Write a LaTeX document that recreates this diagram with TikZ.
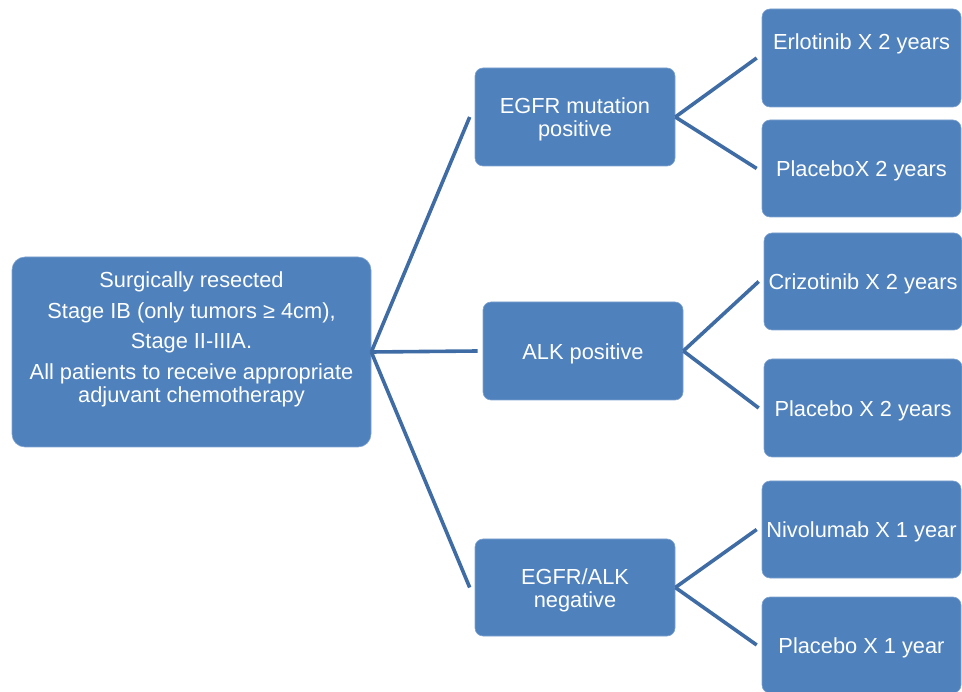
\documentclass[tikz,border=0pt]{standalone}
\usepackage{fontspec}
\setmainfont{Liberation Sans}
\definecolor{boxblue}{HTML}{4F81BD}
\definecolor{boxedge}{HTML}{7EA3D0}
\definecolor{linkblue}{HTML}{3F6CA4}
\newcommand{\lowertxt}[1]{\raisebox{-2.5pt}[\height][\depth]{#1}}
\tikzset{
  bluebox/.style={rectangle, rounded corners=8pt, fill=boxblue, draw=boxedge, line width=0.6pt,
    inner sep=0pt, text=white, font=\fontsize{21.8}{23}\selectfont, align=center, anchor=center},
  txt/.style={text=white, font=\fontsize{21.8}{23}\selectfont, align=center, inner sep=0pt},
  link/.style={draw=linkblue, line width=3.6pt}
}
\begin{document}
\begin{tikzpicture}[x=1pt,y=-1pt]
\useasboundingbox (0,0) rectangle (962,692);
% root
\node[bluebox, rounded corners=13pt, minimum width=359pt, minimum height=190pt] (root) at (191.5,352) {};
\node[txt] (roottxt) at (191.5,339) {Surgically resected\\[8pt]Stage IB (only tumors ≥ 4cm),\\[7pt]Stage II-IIIA.\\[8pt]All patients to receive appropriate\\adjuvant chemotherapy};
% middle
\node[bluebox, minimum width=200pt, minimum height=98pt] (egfr) at (575,117) {\lowertxt{EGFR mutation}\\\lowertxt{positive}};
\node[bluebox, minimum width=200pt, minimum height=98pt] (alk) at (583,351) {\lowertxt{ALK positive}};
\node[bluebox, minimum width=200pt, minimum height=97pt] (neg) at (575,587.5) {\lowertxt{EGFR/ALK}\\\lowertxt{negative}};
% right
\node[bluebox, minimum width=199pt, minimum height=98pt] (erl) at (861.5,58) {};
\node[txt] (erltxt) at (861.5,44) {Erlotinib X 2 years};
\node[bluebox, minimum width=199pt, minimum height=97pt] (plc1) at (861.5,168.5) {\lowertxt{PlaceboX 2 years}};
\node[bluebox, minimum width=198pt, minimum height=97pt] (criz) at (863,281.5) {\lowertxt{Crizotinib X 2 years}};
\node[bluebox, minimum width=198pt, minimum height=98pt] (plc2) at (863,408) {\lowertxt{Placebo X 2 years}};
\node[bluebox, minimum width=199pt, minimum height=97pt] (nivo) at (861.5,529.5) {\lowertxt{Nivolumab X 1 year}};
\node[bluebox, minimum width=199pt, minimum height=96pt] (plc3) at (861.5,645) {\lowertxt{Placebo X 1 year}};
% connectors
\path[link] (root.east) -- ([xshift=-5pt]egfr.west);
\path[link] (root.east) -- ([xshift=-5pt]alk.west);
\path[link] (root.east) -- ([xshift=-5pt]neg.west);
\path[link] (egfr.east) -- ([xshift=-5pt]erl.west);
\path[link] (egfr.east) -- ([xshift=-5pt]plc1.west);
\path[link] (alk.east) -- ([xshift=-5pt]criz.west);
\path[link] (alk.east) -- ([xshift=-5pt]plc2.west);
\path[link] (neg.east) -- ([xshift=-5pt]nivo.west);
\path[link] (neg.east) -- ([xshift=-5pt]plc3.west);
\end{tikzpicture}
\end{document}
